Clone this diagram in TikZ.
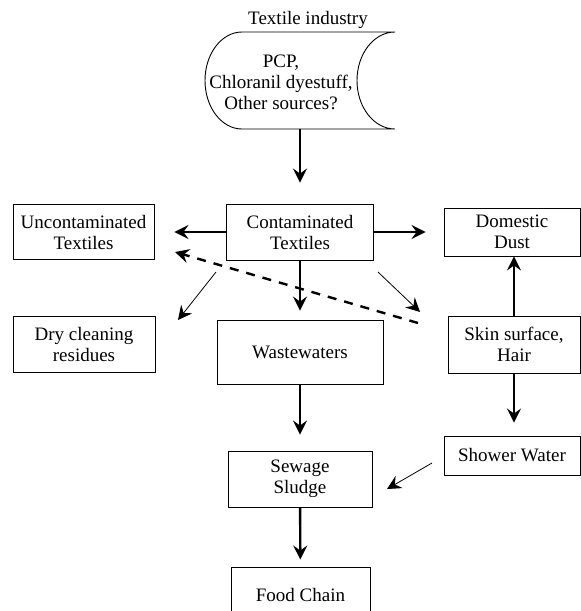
\documentclass[tikz,border=0pt]{standalone}
\usepackage{fontspec}
\setmainfont{Liberation Serif}
\usetikzlibrary{arrows.meta}
\tikzset{>={Stealth[length=14pt,width=14pt,inset=5pt]}}
\tikzstyle{txt}=[align=center,inner sep=0pt,font=\fontsize{19}{21}\selectfont]
\tikzstyle{block}=[txt,draw,line width=0.9pt]
\tikzstyle{flow}=[->,line width=2.4pt]
\tikzstyle{side}=[->,line width=0.8pt]
\tikzstyle{back}=[->,line width=2.4pt,dash pattern=on 9pt off 8pt]

\begin{document}
\begin{tikzpicture}[x=1pt,y=-1pt]
  \useasboundingbox (0,0) rectangle (581,611);
  \def\T{32}
  \def\B{129}
  \def\M{80.5}
  % source: stored data shape
  \draw[line width=0.9pt]
    (242,\T) -- (395,\T)
    .. controls (374,\T) and (357,53.7) .. (357,\M)
    .. controls (357,107.3) and (374,\B) .. (395,\B)
    -- (242,\B)
    .. controls (221.6,\B) and (205,107.3) .. (205,\M)
    .. controls (205,53.7) and (221.6,\T) .. (242,\T) -- cycle;
  \node[txt] (ind) at (308,20) {Textile industry};
  \node[txt] (src) at (281,82) {PCP,\\Chloranil dyestuff,\\Other sources?};
  \coordinate (srcb) at (300,\B);
  % boxes
  \node[block,minimum width=141pt,minimum height=55pt] (uncont) at (83.5,232) {Uncontaminated\\Textiles};
  \node[block,minimum width=147pt,minimum height=56pt] (cont) at (300,232) {Contaminated\\Textiles};
  \node[block,minimum width=136pt,minimum height=48pt] (dust) at (512,232) {Domestic\\Dust};
  \node[block,minimum width=142pt,minimum height=56pt] (dry) at (84,344) {Dry cleaning\\residues};
  \node[block,minimum width=166pt,minimum height=64pt] (waste) at (300,352) {Wastewaters};
  \node[block,minimum width=132pt,minimum height=57pt] (skin) at (514,344.5) {Skin surface,\\Hair};
  \node[block,minimum width=136pt,minimum height=39pt] (shower) at (512,455.5) {Shower Water};
  \node[block,minimum width=144pt,minimum height=56pt] (sewage) at (300,479) {Sewage\\Sludge};
  \node[block,minimum width=139pt,minimum height=56pt] (food) at (300.5,595) {Food Chain};
  % free ends
  \coordinate (d1) at (216,272);
  \coordinate (d2) at (178,320);
  \coordinate (s1) at (378,272);
  \coordinate (s2) at (420,312);
  \coordinate (b1) at (418,323);
  \coordinate (b2) at (175,252);
  \coordinate (w1) at (432,463);
  \coordinate (w2) at (387,489);
  % connectors
  \draw[flow,shorten >=21pt] (srcb) -- (cont.north);
  \draw[flow,shorten >=20pt] (cont) -- (uncont);
  \draw[flow,shorten >=18pt] (cont) -- (dust);
  \draw[flow,shorten >=9pt] (cont) -- (waste);
  \draw[flow] (skin.north) -- (skin.north |- dust.south);
  \draw[flow,shorten >=13pt] (skin.south) -- (skin.south |- shower.north);
  \draw[flow,shorten >=16pt] (waste) -- (sewage);
  \draw[flow,shorten >=7pt] (sewage) -- (food);
  \draw[side] (d1) -- (d2);
  \draw[side] (s1) -- (s2);
  \draw[side] (w1) -- (w2);
  \draw[back] (b1) -- (b2);
\end{tikzpicture}
\end{document}
